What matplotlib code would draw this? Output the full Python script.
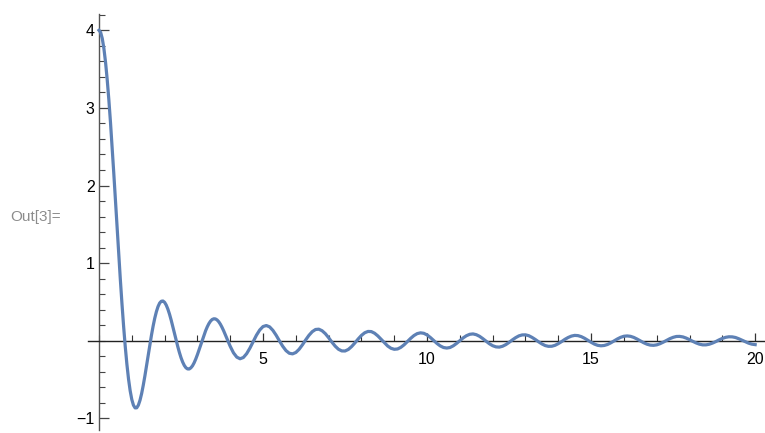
import matplotlib
matplotlib.use("Agg")
import matplotlib.pyplot as plt
import numpy as np
from matplotlib.ticker import MultipleLocator, FixedLocator

# curve samples
# near the origin: every 0.05 from x=0 to x=4
y_near = [
    4.000, 3.973, 3.894, 3.764, 3.587, 3.366, 3.107, 2.816, 2.499, 2.164,
    1.819, 1.470, 1.126, 0.793, 0.479, 0.188, -0.073, -0.301, -0.492, -0.644,
    -0.757, -0.830, -0.865, -0.864, -0.830, -0.767, -0.680, -0.572, -0.451, -0.320,
    -0.186, -0.054, 0.073, 0.189, 0.291, 0.375, 0.441, 0.486, 0.509, 0.512,
    0.495, 0.459, 0.407, 0.342, 0.266, 0.183, 0.097, 0.011, -0.073, -0.150,
    -0.218, -0.274, -0.318, -0.348, -0.363, -0.364, -0.349, -0.323, -0.284, -0.235,
    -0.179, -0.117, -0.053, 0.011, 0.072, 0.129, 0.179, 0.221, 0.253, 0.274,
    0.283, 0.281, 0.268, 0.245, 0.213, 0.173, 0.128, 0.079, 0.028, -0.023,
    -0.072,
]
# further out: every 0.1 from x=4.1 to x=20
y_far = [
    -0.156, -0.211, -0.232, -0.216, -0.167, -0.095, -0.011, 0.072, 0.139,
    0.183, 0.196, 0.179, 0.134, 0.071, -0.002, -0.071, -0.127, -0.161, -0.169,
    -0.151, -0.110, -0.053, 0.011, 0.070, 0.117, 0.145, 0.149, 0.129, 0.091,
    0.039, -0.018, -0.070, -0.110, -0.131, -0.132, -0.112, -0.075, -0.028, 0.023,
    0.069, 0.103, 0.120, 0.118, 0.097, 0.062, 0.018, -0.028, -0.068, -0.097,
    -0.110, -0.106, -0.085, -0.052, -0.011, 0.031, 0.067, 0.092, 0.102, 0.096,
    0.075, 0.042, 0.004, -0.034, -0.066, -0.087, -0.094, -0.087, -0.065, -0.034,
    0.002, 0.037, 0.065, 0.083, 0.088, 0.078, 0.057, 0.027, -0.006, -0.039,
    -0.064, -0.079, -0.082, -0.071, -0.050, -0.021, 0.011, 0.040, 0.063, 0.075,
    0.076, 0.065, 0.043, 0.016, -0.014, -0.041, -0.062, -0.072, -0.071, -0.059,
    -0.037, -0.011, 0.018, 0.042, 0.060, 0.069, 0.066, 0.053, 0.032, 0.006,
    -0.020, -0.043, -0.059, -0.065, -0.061, -0.048, -0.027, -0.002, 0.023, 0.044,
    0.058, 0.062, 0.057, 0.043, 0.022, -0.002, -0.025, -0.044, -0.056, -0.059,
    -0.053, -0.038, -0.018, 0.005, 0.027, 0.044, 0.055, 0.056, 0.049, 0.034,
    0.014, -0.008, -0.028, -0.044, -0.053, -0.053, -0.045, -0.030, -0.011, 0.011,
    0.030, 0.044, 0.051, 0.050, 0.042, 0.026, 0.007, -0.013, -0.031, -0.044,
    -0.050,
]
x_near = 0.05 * np.arange(len(y_near))
x_far = 4.1 + 0.1 * np.arange(len(y_far))
x_vals = np.concatenate([x_near, x_far])
y_vals = np.concatenate([y_near, y_far])

x_major = [5, 10, 15, 20]
y_major = [-1, 1, 2, 3, 4]

plt.rcParams['font.family'] = ['Liberation Sans', 'DejaVu Sans']

fig = plt.figure(figsize=(7.65, 4.33), dpi=100)
ax = fig.add_axes([88/765, 3/433, 677/765, 416/433])

ax.plot(x_vals, y_vals, color='#5E81B5', lw=2.3, solid_joinstyle='round', zorder=3, clip_on=False)

ax.set_xlim(-0.335, 20.3)
ax.set_ylim(-1.15, 4.21)

for s in ['top', 'right']:
    ax.spines[s].set_visible(False)
ax.spines['left'].set_position(('data', 0))
ax.spines['bottom'].set_position(('data', 0))
ax.spines['left'].set_color('#555555')
ax.spines['bottom'].set_color('#222222')
ax.spines['left'].set_linewidth(1.0)
ax.spines['bottom'].set_linewidth(1.0)

ax.xaxis.set_major_locator(FixedLocator(x_major))
ax.xaxis.set_minor_locator(MultipleLocator(1))
ax.yaxis.set_major_locator(FixedLocator(y_major))
ax.yaxis.set_minor_locator(MultipleLocator(0.2))
ax.set_xticklabels([str(v) for v in x_major])
ax.set_yticklabels(['\u22121' if v < 0 else str(v) for v in y_major])

ax.tick_params(axis='x', which='major', direction='in', length=6, width=0.9,
               color='#333333', labelsize=11.5, pad=8)
ax.tick_params(axis='x', which='minor', direction='in', length=4, width=0.8, color='#333333')
ax.tick_params(axis='y', which='major', direction='in', length=7, width=0.9,
               color='#444444', labelsize=11.5, pad=3)
ax.tick_params(axis='y', which='minor', direction='in', length=4, width=0.8, color='#444444')

fig.text(10/765, 1 - 217/433, 'Out[3]=', fontsize=11, color='#8c8c8c', va='center', ha='left')

fig.savefig('out.png', dpi=100)
